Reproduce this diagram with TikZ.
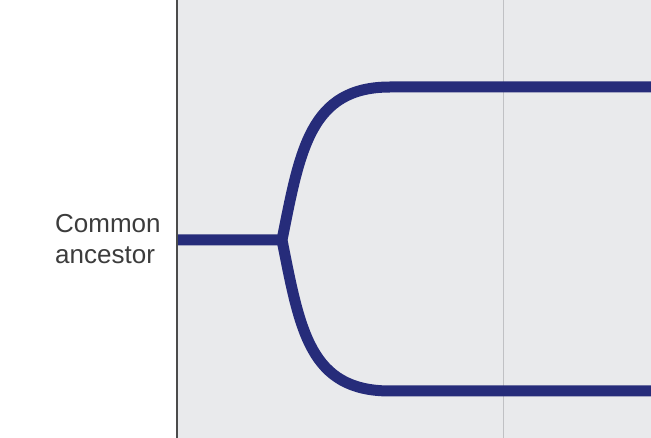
\documentclass[tikz,border=0pt]{standalone}
\usepackage{fontspec}
\setmainfont{Liberation Sans}
\usepackage{xcolor}
\usepackage{tikz}
\definecolor{treeblue}{RGB}{38,44,122}
\definecolor{panelgray}{RGB}{233,234,236}
\definecolor{axisgray}{RGB}{75,75,75}
\definecolor{gridgray}{RGB}{192,193,196}
\definecolor{textgray}{RGB}{60,60,60}

\begin{document}
\begin{tikzpicture}[x=1pt,y=-1pt,
    branch/.style={draw=treeblue,line width=11pt,line join=miter},
    label text/.style={font=\fontsize{26}{31}\selectfont,text=textgray,inner sep=0pt,anchor=base west}]
    \useasboundingbox (0,0) rectangle (651,438);
    \fill[panelgray] (178,0) rectangle (651,438);
    \draw[gridgray,line width=1.5pt] (503.5,0) -- (503.5,438);
    \draw[axisgray,line width=2pt] (177,0) -- (177,438);
    \coordinate (root) at (178,240);
    \coordinate (split) at (282,240);
    \coordinate (top_bend) at (390,87);
    \coordinate (top_end) at (651,87);
    \coordinate (bot_bend) at (390,391);
    \coordinate (bot_end) at (651,391);
    \node[label text] (lbl_common) at (55,233) {Common};
    \node[label text] (lbl_ancestor) at (55,264) {ancestor};
    \path[branch]
    (root) -- (split) .. controls (300,150) and (310,87) .. (top_bend) -- (top_end)
    (split) .. controls (300,331) and (310,391) .. (bot_bend) -- (bot_end);
  \end{tikzpicture}
\end{document}
